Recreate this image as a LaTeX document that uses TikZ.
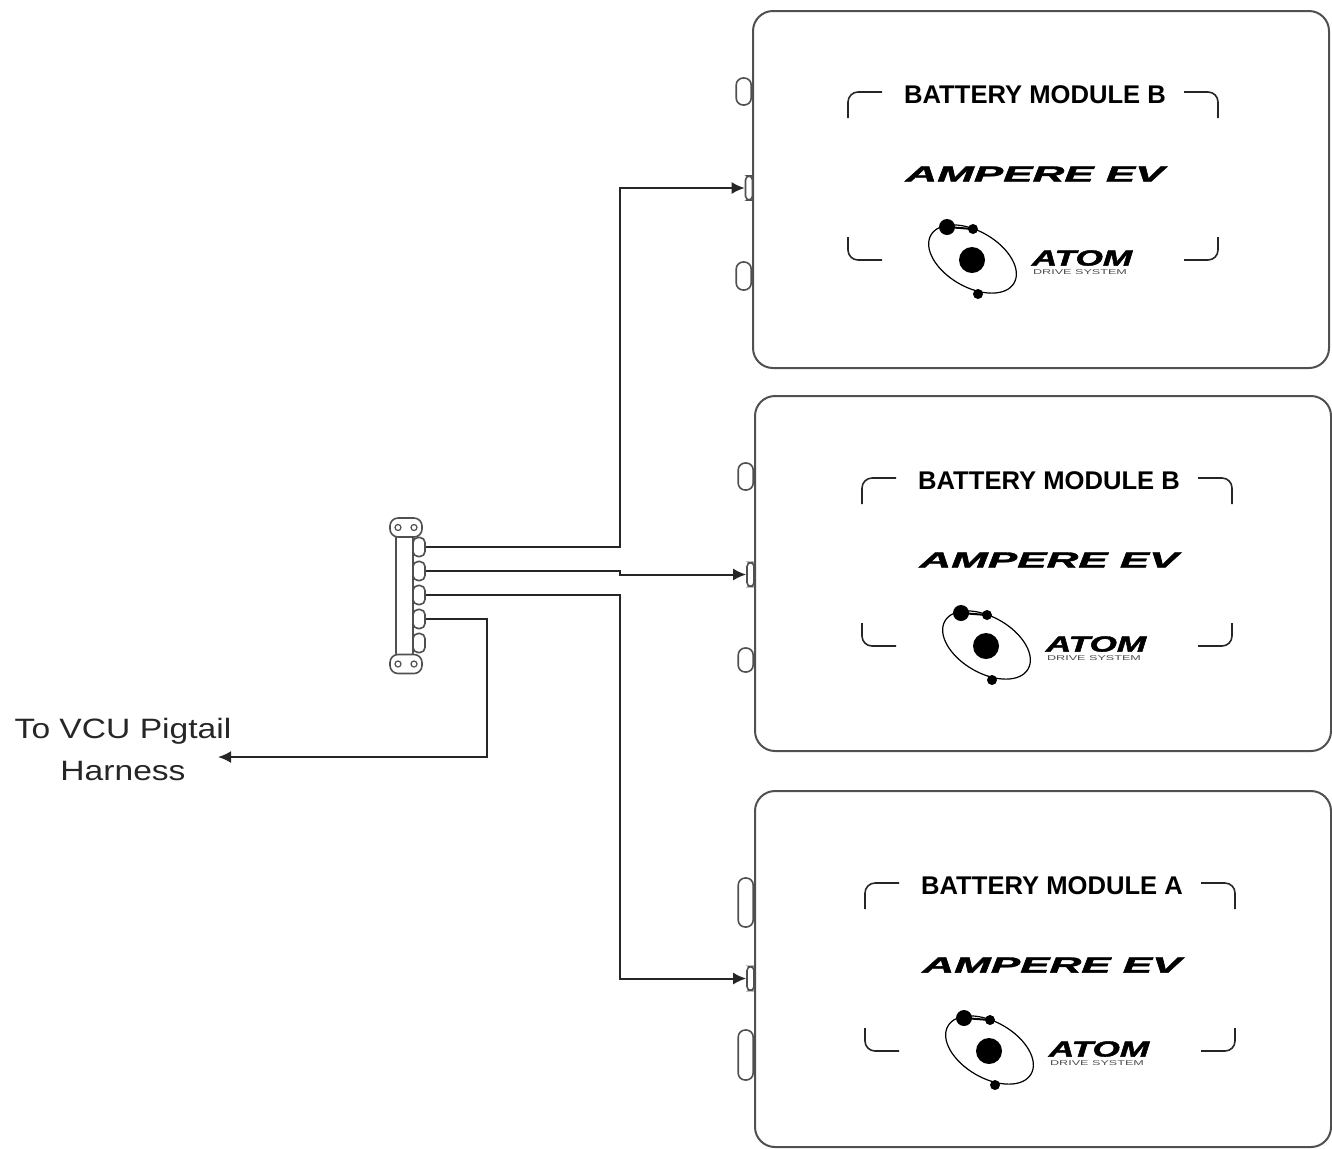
\documentclass[tikz,border=0pt]{standalone}
\usepackage{fontspec}
\setmainfont{Liberation Sans}
\newfontfamily\brandfont{Liberation Sans}[UprightFont={* Bold Italic}, FakeBold=1.5]
\usepackage{graphicx}
\usepackage{tikz}
\usetikzlibrary{arrows.meta}
\definecolor{edgegray}{HTML}{505050}
\tikzset{
   module/.style={draw=edgegray, line width=1pt, rounded corners=10pt,
      minimum width=288pt, inner sep=0pt, anchor=north west},
   latch/.style={draw=edgegray, fill=white, line width=0.8pt,
      rounded corners=3.5pt, inner sep=0pt, minimum width=7.5pt, anchor=east},
   port/.style={draw=edgegray, fill=white, line width=0.8pt,
      rounded corners=2pt, inner sep=0pt, minimum width=3.5pt, minimum height=12pt},
   wire/.style={draw=black!85, line width=1pt},
   signal/.style={wire, -{Latex[length=6.5pt,width=6pt]}},
   bracket/.style={draw=black!85, line width=0.8pt, rounded corners=5pt},
   title/.style={font=\fontsize{12.8}{15}\selectfont\bfseries, inner sep=0pt},
   brand/.style={font=\fontsize{11}{13}\selectfont\brandfont, inner sep=0pt},
   tagline/.style={font=\fontsize{3.5}{4}\selectfont, text=black!70, inner sep=0pt},
   orbit/.style={draw=black, line width=0.6pt},
   hubbar/.style={draw=edgegray, fill=white, line width=0.8pt, rounded corners=1pt,
      minimum width=8.5pt, minimum height=60pt, inner sep=0pt},
   tab/.style={draw=edgegray, fill=white, line width=0.8pt, rounded corners=4pt,
      minimum width=16pt, minimum height=9.5pt, inner sep=0pt},
   pin/.style={draw=edgegray, fill=white, line width=0.8pt, rounded corners=2.5pt,
      minimum width=6pt, minimum height=9.5pt, inner sep=0pt},
   harness/.style={font=\fontsize{14}{21}\selectfont, text=black!85, align=center, inner sep=0pt},
}
% frame, title and logos inside one module
\newcommand{\modulebadge}[4]{%
   \begin{scope}[shift={(#1,#2)}]
      \draw[bracket] (0,26) -- (0,0) -- (34,0);
      \draw[bracket] (336,0) -- (370,0) -- (370,26);
      \draw[bracket] (0,145) -- (0,168) -- (34,168);
      \draw[bracket] (336,168) -- (370,168) -- (370,145);
      \node[title] (#4title) at (187,3) {#3};
      \node[brand] (#4ampere) at (187,82) {\scalebox{2.0}[1]{AMPERE EV}};
      \draw[orbit] (124.5,167) ellipse [x radius=48, y radius=28, rotate=-30];
      \draw[line width=1pt] (99,135) -- (125,137);
      \fill (124,168) circle [radius=13];
      \fill (99,135) circle [radius=8];
      \fill (125,137) circle [radius=5];
      \fill (130,202) circle [radius=5];
      \node[brand] (#4atom) at (234,166) {\scalebox{1.6}[1]{ATOM}};
      \node[tagline] (#4drive) at (232,180) {\scalebox{1.8}[1]{DRIVE SYSTEM}};
   \end{scope}}

\begin{document}
\begin{tikzpicture}[x=0.5pt, y=-0.5pt]
   \useasboundingbox (0,0) rectangle (1332,1148);

   % latches on the module sides
   \node[latch, minimum height=13.5pt] (latchB1a) at (752,91.5) {};
   \node[latch, minimum height=14pt] (latchB1b) at (752,276) {};
   \node[latch, minimum height=13.5pt] (latchB2a) at (754,476.5) {};
   \node[latch, minimum height=12pt] (latchB2b) at (754,660) {};
   \node[latch, minimum height=24.5pt] (latchAa) at (754,902.5) {};
   \node[latch, minimum height=25pt] (latchAb) at (754,1055) {};
   \node[port] (portB1) at (749,188) {};
   \node[port] (portB2) at (750.5,574.5) {};
   \node[port] (portA) at (750.5,978.5) {};

   % modules
   \node[module, minimum height=178.5pt] (modB1) at (752,10) {};
   \node[module, minimum height=177.5pt] (modB2) at (754,395) {};
   \node[module, minimum height=178pt] (modA) at (754,790) {};
   \modulebadge{848}{92}{BATTERY MODULE B}{b1}
   \modulebadge{862}{478}{BATTERY MODULE B}{b2}
   \modulebadge{865}{883}{BATTERY MODULE A}{a}

   % splitter
   \node[pin] (p1) at (419,547) {};
   \node[pin] (p2) at (419,571) {};
   \node[pin] (p3) at (419,595) {};
   \node[pin] (p4) at (419,619) {};
   \node[pin] (p5) at (419,643) {};
   \node[hubbar] (hub) at (404.5,595) {};
   \node[tab] (tabtop) at (406,527.5) {};
   \node[tab] (tabbot) at (406,664) {};
   \draw[edgegray, line width=0.6pt] (398,527.5) circle [radius=3] (414,527.5) circle [radius=3];
   \draw[edgegray, line width=0.6pt] (398,664) circle [radius=3] (414,664) circle [radius=3];

   % wiring
   \coordinate (busx) at (620,0);
   \coordinate (harnx) at (487,0);
   \coordinate (vcu) at (218,757);
   \draw[signal] (p1.east) -- (p1.east -| busx) |- (portB1.west);
   \draw[signal] (p2.east) -- (p2.east -| busx) |- (portB2.west);
   \draw[signal] (p3.east) -- (p3.east -| busx) |- (portA.west);
   \draw[signal] (p4.east) -- (p4.east -| harnx) |- (vcu);

   \node[harness] (vcutext) at (123,749)
      {\scalebox{1.2}[1]{To VCU Pigtail}\\\scalebox{1.2}[1]{Harness}};
\end{tikzpicture}
\end{document}
